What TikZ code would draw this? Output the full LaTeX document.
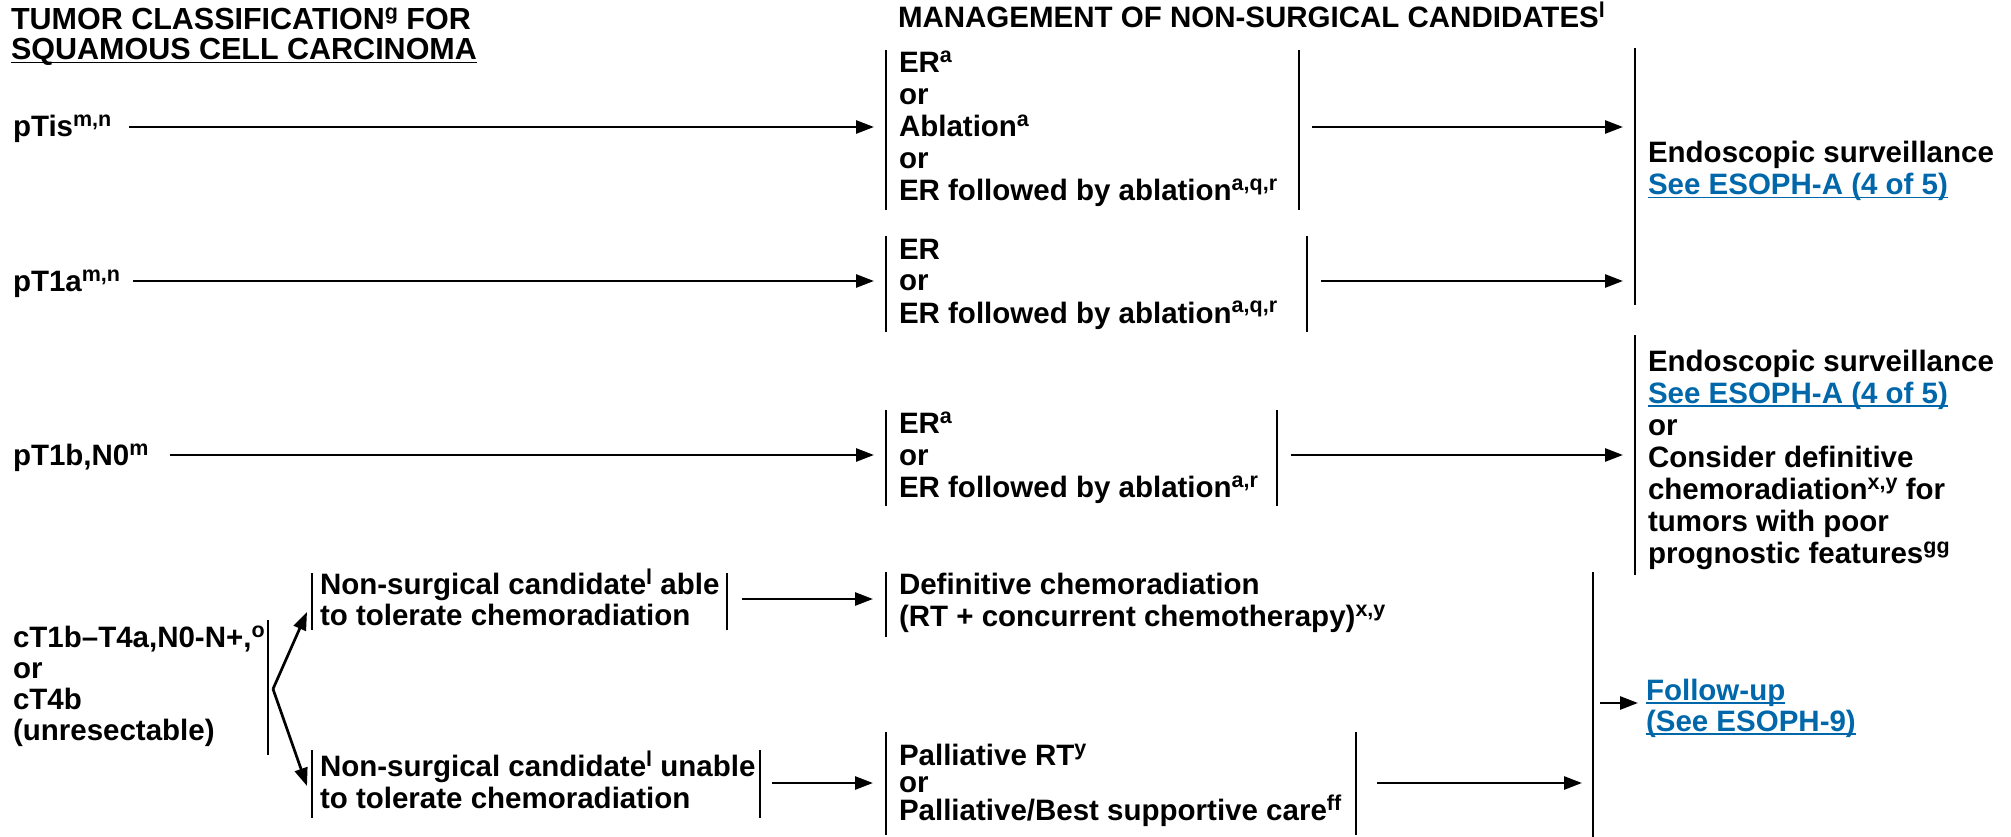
\documentclass[tikz,border=0pt]{standalone}
\usepackage{fontspec}
\setmainfont{Liberation Sans}
\usetikzlibrary{arrows.meta}
\definecolor{linkblue}{RGB}{0,104,170}
\newfont\supfont{"[LiberationSans-Bold.ttf]" at 21.5pt}
\newcommand\sps[1]{\raise10pt\hbox{\supfont #1}}
\newcommand\ulk[1]{\setbox0=\hbox{#1}\rlap{\rule[-3.5pt]{\wd0}{1.8pt}}\box0}
\newcommand\lnk[1]{{\color{linkblue}\ulk{#1}}}
\newcommand\blk[2][32pt]{\vtop{\baselineskip=#1\relax\lineskiplimit=-100pt\relax\let\\\cr\halign{##\hfil\cr#2\crcr}}}
\begin{document}
\begin{tikzpicture}[x=1pt,y=-1pt,
  every node/.style={inner sep=0pt, outer sep=0pt, anchor=base west,
    font=\fontsize{29.5}{32}\selectfont\bfseries},
  titlefont/.style={font=\fontsize{30.5}{30}\selectfont\bfseries},
  bar/.style={line width=2.7pt},
  arr/.style={line width=2.7pt, -{Triangle[length=18pt,width=13pt]}},
]
\useasboundingbox (0,0) rectangle (2011,837);

% headings
\node[titlefont] (title) at (11,30) {\blk[30pt]{TUMOR CLASSIFICATION\sps{g} FOR\\\ulk{SQUAMOUS CELL CARCINOMA}}};
\node (hdr) at (898,28) {MANAGEMENT OF NON-SURGICAL CANDIDATES\sps{l}};

% left labels
\node (p1) at (13,137) {pTis\sps{m,n}};
\node (p2) at (13,291) {pT1a\sps{m,n}};
\node (p3) at (13,465) {pT1b,N0\sps{m}};
\node (c) at (13,647) {\blk[31pt]{cT1b–T4a,N0-N+,\sps{o}\\or\\cT4b\\(unresectable)}};

% middle column
\node (m1) at (899,73) {\blk{ER\sps{a}\\or\\Ablation\sps{a}\\or\\ER followed by ablation\sps{a,q,r}}};
\node (m2) at (899,259) {\blk{ER\\or\\ER followed by ablation\sps{a,q,r}}};
\node (m3) at (899,433) {\blk{ER\sps{a}\\or\\ER followed by ablation\sps{a,r}}};
\node (n1) at (320,594) {\blk[31pt]{Non-surgical candidate\sps{l} able\\to tolerate chemoradiation}};
\node (n2) at (320,776) {\blk{Non-surgical candidate\sps{l} unable\\to tolerate chemoradiation}};
\node (d1) at (899,594) {\blk{Definitive chemoradiation\\(RT + concurrent chemotherapy)\sps{x,y}}};
\node (d2) at (899,765) {\blk[27.5pt]{Palliative RT\sps{y}\\or\\Palliative/Best supportive care\sps{ff}}};

% right column
\node (r1) at (1648,163) {\blk{Endoscopic surveillance\\\lnk{See ESOPH-A (4 of 5)}}};
\node (r2) at (1648,371) {\blk{Endoscopic surveillance\\\lnk{See ESOPH-A (4 of 5)}\\or\\Consider definitive\\chemoradiation\sps{x,y} for\\tumors with poor\\prognostic features\sps{gg}}};
\node (fu) at (1646,700) {\blk[31pt]{\lnk{Follow-up}\\\lnk{(See ESOPH-9)}}};

% bracket bars
\coordinate (m1a) at (886,50);   \coordinate (m1b) at (886,210);
\coordinate (m1c) at (1299,50);  \coordinate (m1d) at (1299,210);
\coordinate (m2a) at (886,236);  \coordinate (m2b) at (886,332);
\coordinate (m2c) at (1307,236); \coordinate (m2d) at (1307,332);
\coordinate (m3a) at (886,410);  \coordinate (m3b) at (886,506);
\coordinate (m3c) at (1277,410); \coordinate (m3d) at (1277,506);
\coordinate (RAa) at (1635,48);  \coordinate (RAb) at (1635,305);
\coordinate (RBa) at (1635,335); \coordinate (RBb) at (1635,575);
\coordinate (ca) at (268,620);   \coordinate (cb) at (268,755);
\coordinate (n1a) at (312,573);  \coordinate (n1b) at (312,630);
\coordinate (n1c) at (727,573);  \coordinate (n1d) at (727,630);
\coordinate (n2a) at (312,750);  \coordinate (n2b) at (312,818);
\coordinate (n2c) at (760,750);  \coordinate (n2d) at (760,818);
\coordinate (d1a) at (886,572);  \coordinate (d1b) at (886,637);
\coordinate (d2a) at (886,732);  \coordinate (d2b) at (886,835);
\coordinate (d2c) at (1356,732); \coordinate (d2d) at (1356,835);
\coordinate (RCa) at (1593,572); \coordinate (RCb) at (1593,837);
\foreach \u/\v in {m1a/m1b,m1c/m1d,m2a/m2b,m2c/m2d,m3a/m3b,m3c/m3d,RAa/RAb,RBa/RBb,
  ca/cb,n1a/n1b,n1c/n1d,n2a/n2b,n2c/n2d,d1a/d1b,d2a/d2b,d2c/d2d,RCa/RCb}
  \draw[bar] (\u) -- (\v);

% connectors
\coordinate (s1) at (129,127);  \coordinate (t1) at (874,127);
\coordinate (s2) at (133,281);  \coordinate (t2) at (874,281);
\coordinate (s3) at (170,455);  \coordinate (t3) at (874,455);
\coordinate (s4) at (1312,127); \coordinate (t4) at (1623,127);
\coordinate (s5) at (1321,281); \coordinate (t5) at (1623,281);
\coordinate (s6) at (1291,455); \coordinate (t6) at (1623,455);
\coordinate (vx) at (273,689);
\coordinate (tu) at (307,612);  \coordinate (tl) at (307,786);
\coordinate (s8) at (742,599);  \coordinate (t8) at (873,599);
\coordinate (s9) at (772,783);  \coordinate (t9) at (873,783);
\coordinate (s10) at (1377,783); \coordinate (t10) at (1582,783);
\coordinate (s11) at (1600,703); \coordinate (t11) at (1638,703);
\foreach \u/\v in {s1/t1,s2/t2,s3/t3,s4/t4,s5/t5,s6/t6,vx/tu,vx/tl,s8/t8,s9/t9,s10/t10,s11/t11}
  \draw[arr] (\u) -- (\v);
\end{tikzpicture}
\end{document}
